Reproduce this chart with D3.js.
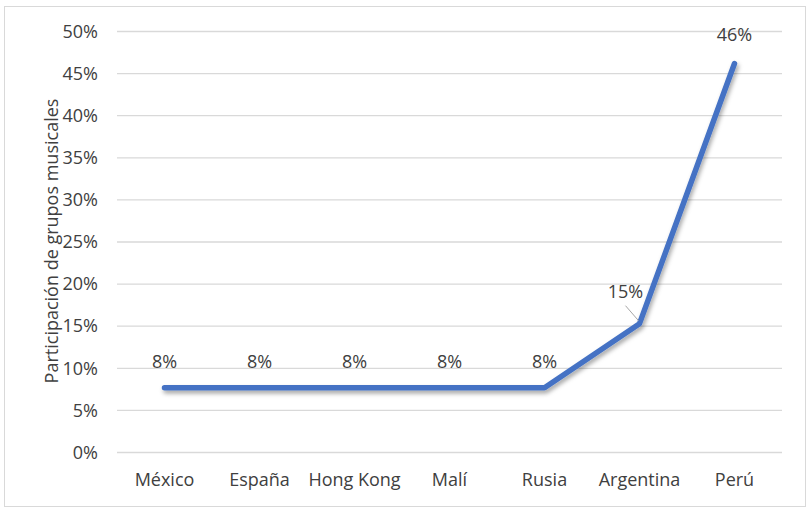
<!DOCTYPE html>
<html><head><meta charset="utf-8">
<script src="https://cdn.jsdelivr.net/npm/d3@7"></script>
<style>html,body{margin:0;padding:0;background:#fff;}svg{display:block;font-family:"Open Sans",sans-serif;}</style>
</head><body><div id="chart"></div>
<script>
const categories = ["México","España","Hong Kong","Malí","Rusia","Argentina","Perú"];
const values = [0.077,0.077,0.077,0.077,0.077,0.153,0.462];
const valueLabels = ["8%","8%","8%","8%","8%","15%","46%"];
const yTicks = [0,0.05,0.10,0.15,0.20,0.25,0.30,0.35,0.40,0.45,0.50];
const yTitle = "Participación de grupos musicales";

(function(){
const W=811,H=509;
const FS="18px";
const svg=d3.select("#chart").append("svg").attr("width",W).attr("height",H);
const defs=svg.append("defs");
const f=defs.append("filter").attr("id","sh").attr("x","-10%").attr("y","-10%").attr("width","130%").attr("height","130%");
f.append("feDropShadow").attr("dx",1.5).attr("dy",3).attr("stdDeviation",2).attr("flood-color","#000").attr("flood-opacity",0.35);

svg.append("rect").attr("x",4.5).attr("y",6.5).attr("width",801).attr("height",500)
  .attr("fill","#fff").attr("stroke","#d9d9d9").attr("stroke-width",1);

const pL=117,pR=782,pT=31.5,pB=452.5;
const x=d3.scaleBand().domain(categories).range([pL,pR]);
const y=d3.scaleLinear().domain([0,0.5]).range([pB,pT]);
const textCol="#404040";

const g=svg.append("g");
g.selectAll("line.grid").data(yTicks).enter().append("line")
  .attr("x1",pL).attr("x2",pR).attr("y1",d=>y(d)).attr("y2",d=>y(d))
  .attr("stroke","#d9d9d9").attr("stroke-width",1.3);

const yAxis=d3.axisLeft(y).tickValues(yTicks).tickFormat(d3.format(".0%")).tickSize(0).tickPadding(19);
const ya=svg.append("g").attr("transform",`translate(${pL},0)`).call(yAxis);
ya.select(".domain").remove();
ya.selectAll("text").attr("fill",textCol).style("font-size",FS).style("font-family","Open Sans");

const xAxis=d3.axisBottom(x).tickSize(0).tickPadding(0);
const xa=svg.append("g").attr("transform",`translate(0,${pB})`).call(xAxis);
xa.select(".domain").remove();
xa.selectAll("text").attr("fill",textCol).style("font-size",FS).style("font-family","Open Sans").attr("dy",null).attr("y",33);

svg.append("text").attr("transform",`translate(58,241) rotate(-90)`).attr("text-anchor","middle")
  .attr("fill",textCol).style("font-size",FS).text(yTitle);

const pts=categories.map((c,i)=>[x(c)+x.bandwidth()/2,y(values[i])]);
const line=d3.line();
svg.append("path").attr("d",line(pts)).attr("fill","none").attr("stroke","#4472C4")
  .attr("stroke-width",5.5).attr("stroke-linecap","round").attr("stroke-linejoin","round").attr("filter","url(#sh)");

const ai=5;
svg.append("line").attr("x1",pts[ai][0]-14).attr("y1",pts[ai][1]-18).attr("x2",pts[ai][0]-1).attr("y2",pts[ai][1]-3)
  .attr("stroke","#a6a6a6").attr("stroke-width",1);

svg.selectAll("text.lbl").data(valueLabels).enter().append("text").attr("class","lbl")
  .attr("text-anchor","middle").attr("fill",textCol).style("font-size",FS)
  .attr("x",(d,i)=> i===ai ? pts[i][0]-14 : pts[i][0])
  .attr("y",(d,i)=> i===ai ? pts[i][1]-26 : (i===6 ? pts[i][1]-22 : pts[i][1]-20))
  .text(d=>d);
})();
</script></body></html>
